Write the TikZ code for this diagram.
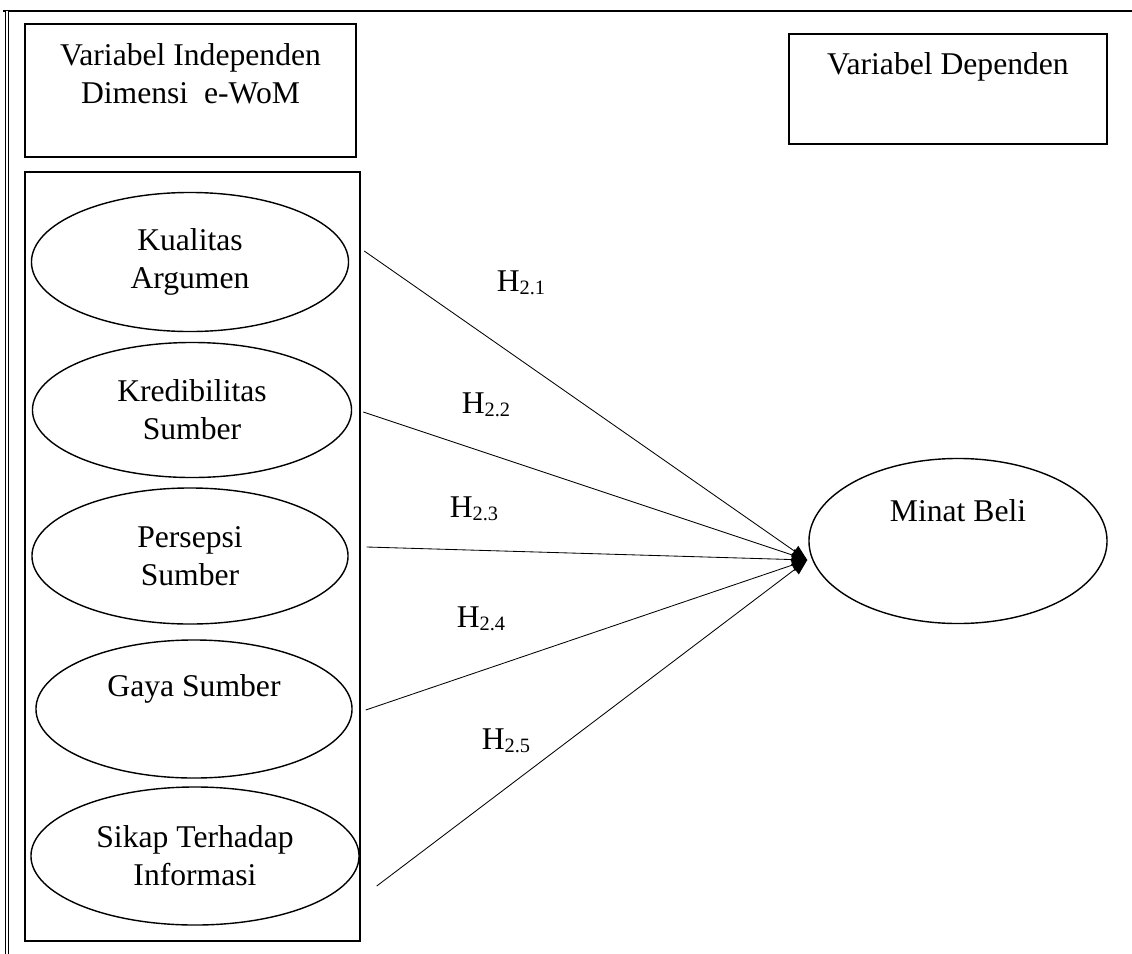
\documentclass[tikz,border=0pt]{standalone}
\usepackage{fontspec}
\setmainfont{Liberation Serif}
\usetikzlibrary{positioning,arrows.meta,shapes.geometric}
\newcommand{\hlab}[1]{H\raisebox{-2.5pt}{\fontsize{14.5}{14.5}\selectfont #1}}

\begin{document}
\begin{tikzpicture}[x=0.025cm,y=-0.025cm,
 txt/.style={font=\fontsize{22.5}{27}\selectfont,align=center,inner sep=0pt},
 box/.style={draw,line width=1pt,inner sep=0pt},
 oval/.style={ellipse,draw,line width=1pt,txt},
 hyp/.style={font=\fontsize{22.5}{27}\selectfont,inner sep=0pt},
 arr/.style={-{Triangle[length=11pt,width=9pt]},line width=0.6pt}]
\useasboundingbox (0,0) rectangle (1132,954);
% page frame
\draw[line width=0.9pt] (3,11) -- (1132,11);
\draw[line width=0.5pt,double,double distance=1.5pt] (7,11) -- (7,954);
% headers
\node[box,minimum width=8.275cm,minimum height=3.325cm] (indep) at (190.5,90.5) {};
\node[txt] (indeptxt) at (190.5,74) {Variabel Independen\\Dimensi\ \ e-WoM};
\node[box,minimum width=7.95cm,minimum height=2.75cm] (dep) at (948,89) {};
\node[txt] (deptxt) at (948,67) {Variabel Dependen};
% dimensions
\node[box,minimum width=8.375cm,minimum height=19.225cm] (group) at (192.5,556.5) {};
\node[oval,minimum width=7.925cm,minimum height=3.475cm] (kualitas) at (190,262) {Kualitas\\Argumen};
\node[oval,minimum width=7.975cm,minimum height=3.375cm] (kredibilitas) at (192,410) {Kredibilitas\\Sumber};
\node[oval,minimum width=7.9cm,minimum height=3.4cm] (persepsi) at (190,556) {Persepsi\\Sumber};
\node[oval,minimum width=7.9cm,minimum height=3.45cm] (gaya) at (194,709) {};
\node[txt] (gayatxt) at (194,689) {Gaya Sumber};
\node[oval,minimum width=8.2cm,minimum height=3.45cm] (sikap) at (195,856) {Sikap Terhadap\\Informasi};
% dependent
\node[oval,minimum width=7.45cm,minimum height=4.125cm] (minat) at (958,541) {};
\node[txt] (minattxt) at (958,511) {Minat Beli};
\coordinate (hub) at ([shift={(-1,19)}]minat.west);
% hypotheses
\draw[arr] ([shift={(15,-11)}]kualitas.east) -- (hub);
\draw[arr] ([shift={(11,2)}]kredibilitas.east) -- (hub);
\draw[arr] ([shift={(18,-9)}]persepsi.east) -- (hub);
\draw[arr] ([shift={(13,1)}]gaya.east) -- (hub);
\draw[arr] ([shift={(17,30)}]sikap.east) -- (hub);
\node[hyp] (h21) at (521,283) {\hlab{2.1}};
\node[hyp] (h22) at (486,405) {\hlab{2.2}};
\node[hyp] (h23) at (474,509) {\hlab{2.3}};
\node[hyp] (h24) at (481,619) {\hlab{2.4}};
\node[hyp] (h25) at (506,741) {\hlab{2.5}};
\end{tikzpicture}
\end{document}
